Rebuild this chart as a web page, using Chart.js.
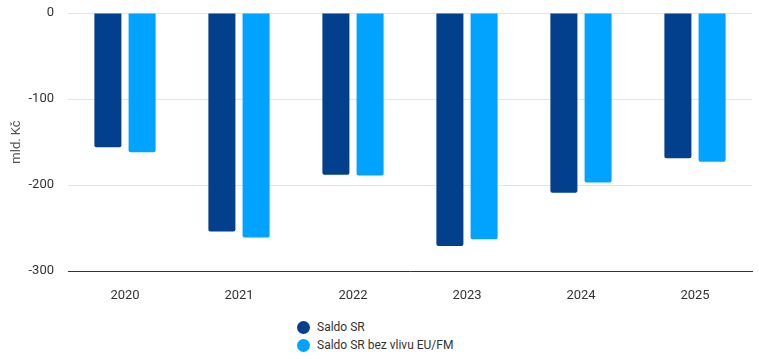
<!DOCTYPE html>
<html>
<head>
<meta charset="utf-8">
<script src="https://cdn.jsdelivr.net/npm/chart.js@4/dist/chart.umd.min.js"></script>
<style>
  body { margin: 0; background: #fff; font-family: Roboto, sans-serif; }
  #wrap { position: relative; width: 759px; height: 359px; }
  #legenda { position: absolute; left: 297px; top: 318px; font-size: 12px; color: #333; }
  .voce { height: 18px; line-height: 18px; display: flex; align-items: center; }
  .pallino { width: 13px; height: 13px; border-radius: 50%; margin-right: 7px; }
</style>
</head>
<body>
<div id="wrap">
  <canvas id="grafico" width="759" height="310"></canvas>
  <div id="legenda"></div>
</div>
<script>
// dati
var anni = ['2020', '2021', '2022', '2023', '2024', '2025'];
var saldo = [-156, -254, -188, -271, -209, -169];
var saldoBezEU = [-162, -261, -189, -263, -197, -173];
var nomiSerie = ['Saldo SR', 'Saldo SR bez vlivu EU/FM'];
var colori = ['#023f8c', '#00a3ff'];
var tickY = [0, -100, -200, -300];

var chart = new Chart(document.getElementById('grafico'), {
    type: 'bar',
    data: {
        labels: anni,
        datasets: [{
            label: nomiSerie[0],
            backgroundColor: colori[0],
            data: saldo
        },
        {
            label: nomiSerie[1],
            backgroundColor: colori[1],
            data: saldoBezEU
        }]
    },
    options: {
        responsive: false,
        animation: false,
        categoryPercentage: 0.6,
        barPercentage: 0.79,
        borderRadius: 2,
        layout: { padding: { top: 13, right: 7, bottom: 4, left: 9 } },
        plugins: {
            legend: { display: false },
            tooltip: { enabled: false }
        },
        scales: {
            x: {
                grid: { display: false },
                border: { display: true, color: '#333', width: 1 },
                ticks: { color: '#333', font: { family: 'Roboto', size: 13 }, padding: 9 },
                afterFit: function(scale) { scale.height = 35; scale.paddingLeft = 0; scale.paddingRight = 0; }
            },
            y: {
                min: -300,
                max: 0,
                afterBuildTicks: function(scale) {
                    scale.ticks = tickY.map(function(v) { return { value: v }; });
                },
                grid: { color: '#e3e3e3', drawTicks: false },
                border: { display: false },
                ticks: { color: '#333', font: { family: 'Roboto', size: 13 }, padding: 14 },
                title: {
                    display: true,
                    text: 'mld. Kč',
                    color: '#555',
                    font: { family: 'Roboto', size: 13 },
                    padding: 0
                },
                afterFit: function(scale) { scale.width = 59; scale.paddingTop = 0; scale.paddingBottom = 0; }
            }
        }
    }
});

// legenda
var leg = document.getElementById('legenda');
for (var i = 0; i < nomiSerie.length; i++) {
    leg.innerHTML += '<div class="voce"><span class="pallino" style="background:' + colori[i] + '"></span>' + nomiSerie[i] + '</div>';
}
</script>
</body>
</html>
